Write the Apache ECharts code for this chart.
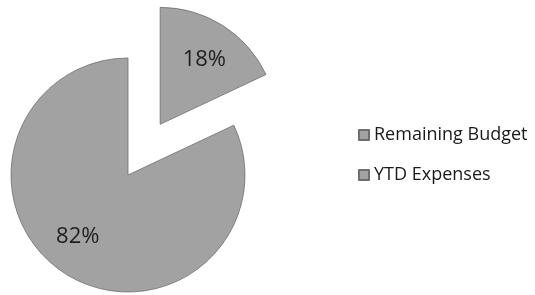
<!DOCTYPE html>
<html>
<head>
<meta charset="utf-8">
<script src="https://cdn.jsdelivr.net/npm/echarts@6/dist/echarts.min.js"></script>
<style>
  html, body { margin: 0; padding: 0; background: #fff; }
  #chart { width: 535px; height: 295px; }
</style>
</head>
<body>
<div id="chart"></div>
<script>
// data
const categories = ["Remaining Budget", "YTD Expenses"];
const values = [18, 82];
const labels = ["18%", "82%"];

const chart = echarts.init(document.getElementById("chart"));

const pieData = categories.map((name, i) => ({
  name: name,
  value: values[i],
  selected: i === 0,
}));

// empty spacer line above (18%) or below (82%) nudges the label vertically
function labelText(p) {
  if (p.dataIndex === 0) return "{s1|}\n{t|" + labels[0] + "}";
  return "{t|" + labels[1] + "}\n{s2|}";
}

const option = {
  animation: false,
  legend: {
    orient: "vertical",
    left: 358,
    top: 126,
    padding: 0,
    itemWidth: 10,
    itemHeight: 10,
    itemGap: 22,
    itemTextGap: 6,
    icon: "rect",
    data: categories,
    textStyle: {
      fontFamily: "Open Sans",
      fontSize: 18,
      lineHeight: 18,
      color: "#1a1a1a",
    },
  },
  series: [
    {
      // the pie itself
      type: "pie",
      center: [128, 175],
      radius: 117,
      startAngle: 90,
      clockwise: true,
      selectedMode: "single",
      selectedOffset: 60,
      itemStyle: {
        color: "#a2a2a2",
        borderColor: "#6e6e6e",
        borderWidth: 0.8,
      },
      label: { show: false },
      labelLine: { show: false },
      emphasis: { disabled: true },
      data: pieData,
    },
    {
      // transparent ring only to place the percent labels further out
      type: "pie",
      center: [128, 175],
      radius: [42, 117],
      startAngle: 90,
      clockwise: true,
      selectedMode: "single",
      selectedOffset: 60,
      silent: true,
      itemStyle: { color: "rgba(0,0,0,0)", borderWidth: 0 },
      label: {
        show: true,
        position: "inside",
        formatter: labelText,
        rich: {
          t: {
            fontFamily: "Open Sans",
            fontSize: 22,
            lineHeight: 24,
            color: "#1e1e1e",
            padding: [0, 0, 0, 0],
          },
          s1: { lineHeight: 10, fontSize: 1 },
          s2: { lineHeight: 16, fontSize: 1 },
        },
      },
      labelLine: { show: false },
      emphasis: { disabled: true },
      data: pieData.map((d, i) => ({
        ...d,
        label: { padding: i === 1 ? [0, 12, 0, 0] : 0 },
      })),
    },
  ],
};

chart.setOption(option);
</script>
</body>
</html>
